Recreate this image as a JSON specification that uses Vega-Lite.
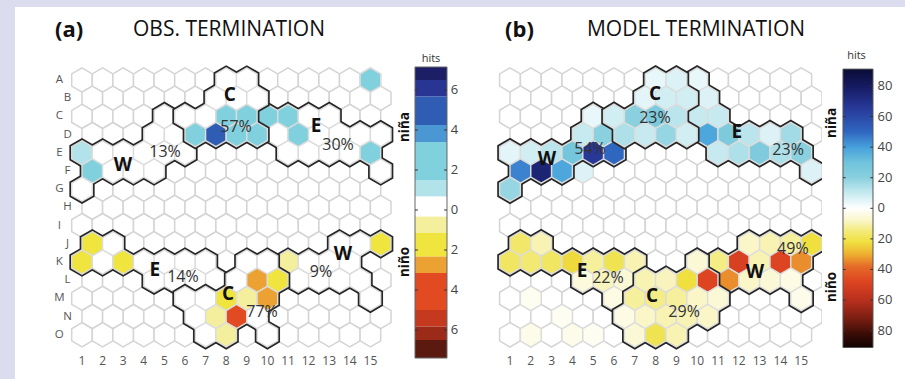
{
"$schema":"https://vega.github.io/schema/vega-lite/v6.json",
"background":"#dcdcef",
"padding":{"left":15,"top":7,"right":0,"bottom":0},
"bounds":"flush",
"spacing":0,
"config":{"view":{"fill":"white","stroke":null},"concat":{"spacing":0},"text":{"font":"Open Sans"}},
"datasets":{
"grid":[
{"x":1,"r":1},{"x":2,"r":1},{"x":3,"r":1},{"x":4,"r":1},{"x":5,"r":1},{"x":6,"r":1},{"x":7,"r":1},{"x":8,"r":1},{"x":9,"r":1},{"x":10,"r":1},{"x":11,"r":1},{"x":12,"r":1},{"x":13,"r":1},{"x":14,"r":1},{"x":15,"r":1},
{"x":1.5,"r":2},{"x":2.5,"r":2},{"x":3.5,"r":2},{"x":4.5,"r":2},{"x":5.5,"r":2},{"x":6.5,"r":2},{"x":7.5,"r":2},{"x":8.5,"r":2},{"x":9.5,"r":2},{"x":10.5,"r":2},{"x":11.5,"r":2},{"x":12.5,"r":2},{"x":13.5,"r":2},{"x":14.5,"r":2},{"x":15.5,"r":2},
{"x":1,"r":3},{"x":2,"r":3},{"x":3,"r":3},{"x":4,"r":3},{"x":5,"r":3},{"x":6,"r":3},{"x":7,"r":3},{"x":8,"r":3},{"x":9,"r":3},{"x":10,"r":3},{"x":11,"r":3},{"x":12,"r":3},{"x":13,"r":3},{"x":14,"r":3},{"x":15,"r":3},
{"x":1.5,"r":4},{"x":2.5,"r":4},{"x":3.5,"r":4},{"x":4.5,"r":4},{"x":5.5,"r":4},{"x":6.5,"r":4},{"x":7.5,"r":4},{"x":8.5,"r":4},{"x":9.5,"r":4},{"x":10.5,"r":4},{"x":11.5,"r":4},{"x":12.5,"r":4},{"x":13.5,"r":4},{"x":14.5,"r":4},{"x":15.5,"r":4},
{"x":1,"r":5},{"x":2,"r":5},{"x":3,"r":5},{"x":4,"r":5},{"x":5,"r":5},{"x":6,"r":5},{"x":7,"r":5},{"x":8,"r":5},{"x":9,"r":5},{"x":10,"r":5},{"x":11,"r":5},{"x":12,"r":5},{"x":13,"r":5},{"x":14,"r":5},{"x":15,"r":5},
{"x":1.5,"r":6},{"x":2.5,"r":6},{"x":3.5,"r":6},{"x":4.5,"r":6},{"x":5.5,"r":6},{"x":6.5,"r":6},{"x":7.5,"r":6},{"x":8.5,"r":6},{"x":9.5,"r":6},{"x":10.5,"r":6},{"x":11.5,"r":6},{"x":12.5,"r":6},{"x":13.5,"r":6},{"x":14.5,"r":6},{"x":15.5,"r":6},
{"x":1,"r":7},{"x":2,"r":7},{"x":3,"r":7},{"x":4,"r":7},{"x":5,"r":7},{"x":6,"r":7},{"x":7,"r":7},{"x":8,"r":7},{"x":9,"r":7},{"x":10,"r":7},{"x":11,"r":7},{"x":12,"r":7},{"x":13,"r":7},{"x":14,"r":7},{"x":15,"r":7},
{"x":1.5,"r":8},{"x":2.5,"r":8},{"x":3.5,"r":8},{"x":4.5,"r":8},{"x":5.5,"r":8},{"x":6.5,"r":8},{"x":7.5,"r":8},{"x":8.5,"r":8},{"x":9.5,"r":8},{"x":10.5,"r":8},{"x":11.5,"r":8},{"x":12.5,"r":8},{"x":13.5,"r":8},{"x":14.5,"r":8},{"x":15.5,"r":8},
{"x":1,"r":9},{"x":2,"r":9},{"x":3,"r":9},{"x":4,"r":9},{"x":5,"r":9},{"x":6,"r":9},{"x":7,"r":9},{"x":8,"r":9},{"x":9,"r":9},{"x":10,"r":9},{"x":11,"r":9},{"x":12,"r":9},{"x":13,"r":9},{"x":14,"r":9},{"x":15,"r":9},
{"x":1.5,"r":10},{"x":2.5,"r":10},{"x":3.5,"r":10},{"x":4.5,"r":10},{"x":5.5,"r":10},{"x":6.5,"r":10},{"x":7.5,"r":10},{"x":8.5,"r":10},{"x":9.5,"r":10},{"x":10.5,"r":10},{"x":11.5,"r":10},{"x":12.5,"r":10},{"x":13.5,"r":10},{"x":14.5,"r":10},{"x":15.5,"r":10},
{"x":1,"r":11},{"x":2,"r":11},{"x":3,"r":11},{"x":4,"r":11},{"x":5,"r":11},{"x":6,"r":11},{"x":7,"r":11},{"x":8,"r":11},{"x":9,"r":11},{"x":10,"r":11},{"x":11,"r":11},{"x":12,"r":11},{"x":13,"r":11},{"x":14,"r":11},{"x":15,"r":11},
{"x":1.5,"r":12},{"x":2.5,"r":12},{"x":3.5,"r":12},{"x":4.5,"r":12},{"x":5.5,"r":12},{"x":6.5,"r":12},{"x":7.5,"r":12},{"x":8.5,"r":12},{"x":9.5,"r":12},{"x":10.5,"r":12},{"x":11.5,"r":12},{"x":12.5,"r":12},{"x":13.5,"r":12},{"x":14.5,"r":12},{"x":15.5,"r":12},
{"x":1,"r":13},{"x":2,"r":13},{"x":3,"r":13},{"x":4,"r":13},{"x":5,"r":13},{"x":6,"r":13},{"x":7,"r":13},{"x":8,"r":13},{"x":9,"r":13},{"x":10,"r":13},{"x":11,"r":13},{"x":12,"r":13},{"x":13,"r":13},{"x":14,"r":13},{"x":15,"r":13},
{"x":1.5,"r":14},{"x":2.5,"r":14},{"x":3.5,"r":14},{"x":4.5,"r":14},{"x":5.5,"r":14},{"x":6.5,"r":14},{"x":7.5,"r":14},{"x":8.5,"r":14},{"x":9.5,"r":14},{"x":10.5,"r":14},{"x":11.5,"r":14},{"x":12.5,"r":14},{"x":13.5,"r":14},{"x":14.5,"r":14},{"x":15.5,"r":14},
{"x":1,"r":15},{"x":2,"r":15},{"x":3,"r":15},{"x":4,"r":15},{"x":5,"r":15},{"x":6,"r":15},{"x":7,"r":15},{"x":8,"r":15},{"x":9,"r":15},{"x":10,"r":15},{"x":11,"r":15},{"x":12,"r":15},{"x":13,"r":15},{"x":14,"r":15},{"x":15,"r":15}
],
"acells":[
{"x":15,"r":1,"v":1.8,"g":""},
{"x":1,"r":5,"v":1.2,"g":"W"},{"x":2,"r":5,"v":0,"g":"W"},{"x":3,"r":5,"v":0,"g":"W"},{"x":4,"r":5,"v":0,"g":"W"},{"x":5,"r":5,"v":0,"g":"W"},{"x":6,"r":5,"v":0,"g":"W"},{"x":1.5,"r":6,"v":2.5,"g":"W"},{"x":2.5,"r":6,"v":0,"g":"W"},{"x":3.5,"r":6,"v":0,"g":"W"},{"x":4.5,"r":6,"v":0,"g":"W"},{"x":1,"r":7,"v":0,"g":"W"},{"x":4.5,"r":4,"v":0,"g":"W"},{"x":5.5,"r":4,"v":0,"g":"W"},{"x":5,"r":3,"v":0,"g":"W"},
{"x":8,"r":1,"v":0,"g":"C"},{"x":9,"r":1,"v":0,"g":"C"},{"x":7.5,"r":2,"v":0,"g":"C"},{"x":8.5,"r":2,"v":0,"g":"C"},{"x":9.5,"r":2,"v":0,"g":"C"},{"x":6,"r":3,"v":0,"g":"C"},{"x":7,"r":3,"v":0,"g":"C"},{"x":8,"r":3,"v":2.5,"g":"C"},{"x":9,"r":3,"v":2.5,"g":"C"},{"x":6.5,"r":4,"v":1.8,"g":"C"},{"x":7.5,"r":4,"v":4.6,"g":"C"},{"x":8.5,"r":4,"v":2.5,"g":"C"},{"x":9.5,"r":4,"v":2.2,"g":"C"},
{"x":10,"r":3,"v":1.8,"g":"E"},{"x":11,"r":3,"v":1.8,"g":"E"},{"x":12,"r":3,"v":0,"g":"E"},{"x":13,"r":3,"v":0,"g":"E"},{"x":10.5,"r":4,"v":0,"g":"E"},{"x":11.5,"r":4,"v":1.8,"g":"E"},{"x":12.5,"r":4,"v":0,"g":"E"},{"x":13.5,"r":4,"v":0,"g":"E"},{"x":14.5,"r":4,"v":0,"g":"E"},{"x":15.5,"r":4,"v":0,"g":"E"},{"x":11,"r":5,"v":0,"g":"E"},{"x":12,"r":5,"v":0,"g":"E"},{"x":13,"r":5,"v":0,"g":"E"},{"x":14,"r":5,"v":0,"g":"E"},{"x":15,"r":5,"v":2.5,"g":"E"},{"x":15.5,"r":6,"v":0,"g":"E"},
{"x":1.5,"r":10,"v":-1.8,"g":"E"},{"x":2.5,"r":10,"v":0,"g":"E"},{"x":1,"r":11,"v":-1.8,"g":"E"},{"x":2,"r":11,"v":0,"g":"E"},{"x":3,"r":11,"v":-1.8,"g":"E"},{"x":4,"r":11,"v":0,"g":"E"},{"x":5,"r":11,"v":0,"g":"E"},{"x":6,"r":11,"v":0,"g":"E"},{"x":7,"r":11,"v":0,"g":"E"},{"x":4.5,"r":12,"v":0,"g":"E"},{"x":5.5,"r":12,"v":0,"g":"E"},{"x":6.5,"r":12,"v":0,"g":"E"},{"x":7.5,"r":12,"v":0,"g":"E"},
{"x":9,"r":11,"v":0,"g":"C"},{"x":10,"r":11,"v":0,"g":"C"},{"x":8.5,"r":12,"v":0,"g":"C"},{"x":9.5,"r":12,"v":-2.8,"g":"C"},{"x":10.5,"r":12,"v":-1.8,"g":"C"},{"x":6,"r":13,"v":0,"g":"C"},{"x":7,"r":13,"v":0,"g":"C"},{"x":8,"r":13,"v":-1.8,"g":"C"},{"x":9,"r":13,"v":-0.9,"g":"C"},{"x":10,"r":13,"v":-2.8,"g":"C"},{"x":6.5,"r":14,"v":0,"g":"C"},{"x":7.5,"r":14,"v":-0.9,"g":"C"},{"x":8.5,"r":14,"v":-4.2,"g":"C"},{"x":9.5,"r":14,"v":0,"g":"C"},{"x":7,"r":15,"v":0,"g":"C"},{"x":8,"r":15,"v":-0.9,"g":"C"},{"x":10,"r":15,"v":0,"g":"C"},
{"x":11,"r":11,"v":-0.9,"g":"W"},{"x":13.5,"r":10,"v":0,"g":"W"},{"x":14.5,"r":10,"v":0,"g":"W"},{"x":15.5,"r":10,"v":-1.3,"g":"W"},{"x":12,"r":11,"v":0,"g":"W"},{"x":13,"r":11,"v":0,"g":"W"},{"x":14,"r":11,"v":0,"g":"W"},{"x":11.5,"r":12,"v":0,"g":"W"},{"x":12.5,"r":12,"v":0,"g":"W"},{"x":13.5,"r":12,"v":0,"g":"W"},{"x":14.5,"r":12,"v":0,"g":"W"},{"x":15,"r":13,"v":0,"g":"W"}
],
"bcells":[
{"x":5,"r":3,"v":4,"g":"W"},{"x":4.5,"r":4,"v":10,"g":"W"},{"x":5.5,"r":4,"v":20,"g":"W"},{"x":1,"r":5,"v":5,"g":"W"},{"x":2,"r":5,"v":8,"g":"W"},{"x":3,"r":5,"v":12,"g":"W"},{"x":4,"r":5,"v":28,"g":"W"},{"x":5,"r":5,"v":66,"g":"W"},{"x":6,"r":5,"v":50,"g":"W"},{"x":1.5,"r":6,"v":45,"g":"W"},{"x":2.5,"r":6,"v":75,"g":"W"},{"x":3.5,"r":6,"v":38,"g":"W"},{"x":1,"r":7,"v":18,"g":"W"},
{"x":4.5,"r":6,"v":6,"g":""},
{"x":8,"r":1,"v":4,"g":"C"},{"x":9,"r":1,"v":6,"g":"C"},{"x":7.5,"r":2,"v":5,"g":"C"},{"x":8.5,"r":2,"v":8,"g":"C"},{"x":9.5,"r":2,"v":8,"g":"C"},{"x":6,"r":3,"v":8,"g":"C"},{"x":7,"r":3,"v":20,"g":"C"},{"x":8,"r":3,"v":25,"g":"C"},{"x":9,"r":3,"v":12,"g":"C"},{"x":6.5,"r":4,"v":14,"g":"C"},{"x":7.5,"r":4,"v":10,"g":"C"},{"x":8.5,"r":4,"v":18,"g":"C"},{"x":9.5,"r":4,"v":8,"g":"C"},
{"x":10,"r":1,"v":4,"g":"E"},{"x":10.5,"r":2,"v":6,"g":"E"},{"x":10,"r":3,"v":10,"g":"E"},{"x":11,"r":3,"v":10,"g":"E"},{"x":10.5,"r":4,"v":38,"g":"E"},{"x":11.5,"r":4,"v":25,"g":"E"},{"x":12.5,"r":4,"v":12,"g":"E"},{"x":13.5,"r":4,"v":6,"g":"E"},{"x":14.5,"r":4,"v":16,"g":"E"},{"x":11,"r":5,"v":10,"g":"E"},{"x":12,"r":5,"v":14,"g":"E"},{"x":13,"r":5,"v":24,"g":"E"},{"x":14,"r":5,"v":14,"g":"E"},{"x":15,"r":5,"v":20,"g":"E"},{"x":15.5,"r":6,"v":6,"g":"E"},
{"x":1.5,"r":10,"v":-17,"g":"E"},{"x":2.5,"r":10,"v":-10,"g":"E"},{"x":1,"r":11,"v":-18,"g":"E"},{"x":2,"r":11,"v":-16,"g":"E"},{"x":3,"r":11,"v":-18,"g":"E"},{"x":4,"r":11,"v":-23,"g":"E"},{"x":5,"r":11,"v":-12,"g":"E"},{"x":6,"r":11,"v":-20,"g":"E"},{"x":7,"r":11,"v":-10,"g":"E"},{"x":4.5,"r":12,"v":-5,"g":"E"},{"x":5.5,"r":12,"v":-9,"g":"E"},{"x":6.5,"r":12,"v":-6,"g":"E"},{"x":6,"r":13,"v":-4,"g":"E"},
{"x":10,"r":11,"v":-6,"g":"C"},{"x":7.5,"r":12,"v":-10,"g":"C"},{"x":8.5,"r":12,"v":-9,"g":"C"},{"x":9.5,"r":12,"v":-22,"g":"C"},{"x":10.5,"r":12,"v":-48,"g":"C"},{"x":7,"r":13,"v":-12,"g":"C"},{"x":8,"r":13,"v":-14,"g":"C"},{"x":9,"r":13,"v":-12,"g":"C"},{"x":10,"r":13,"v":-8,"g":"C"},{"x":11,"r":13,"v":-6,"g":"C"},{"x":6.5,"r":14,"v":-4,"g":"C"},{"x":7.5,"r":14,"v":-8,"g":"C"},{"x":8.5,"r":14,"v":-10,"g":"C"},{"x":9.5,"r":14,"v":-10,"g":"C"},{"x":10.5,"r":14,"v":-8,"g":"C"},{"x":7,"r":15,"v":-6,"g":"C"},{"x":8,"r":15,"v":-20,"g":"C"},{"x":9,"r":15,"v":-10,"g":"C"},
{"x":12.5,"r":10,"v":-8,"g":"W"},{"x":13.5,"r":10,"v":-10,"g":"W"},{"x":14.5,"r":10,"v":-12,"g":"W"},{"x":15.5,"r":10,"v":-22,"g":"W"},{"x":11,"r":11,"v":-14,"g":"W"},{"x":12,"r":11,"v":-50,"g":"W"},{"x":13,"r":11,"v":-10,"g":"W"},{"x":14,"r":11,"v":-48,"g":"W"},{"x":15,"r":11,"v":-34,"g":"W"},{"x":11.5,"r":12,"v":-34,"g":"W"},{"x":12.5,"r":12,"v":-8,"g":"W"},{"x":13.5,"r":12,"v":-6,"g":"W"},{"x":14.5,"r":12,"v":-4,"g":"W"},{"x":15,"r":13,"v":-3,"g":"W"},
{"x":2,"r":15,"v":-3,"g":""},{"x":4,"r":15,"v":-3,"g":""},{"x":5,"r":15,"v":-2,"g":""},{"x":3.5,"r":14,"v":-2,"g":""},{"x":2,"r":13,"v":-2,"g":""}
],
"atext":[
{"t":"W","x":2.99,"r":5.67,"b":"bold"},{"t":"13%","x":5.03,"r":4.96,"b":"normal"},{"t":"C","x":8.18,"r":1.82,"b":"bold"},{"t":"57%","x":8.48,"r":3.58,"b":"normal"},{"t":"E","x":12.36,"r":3.53,"b":"bold"},{"t":"30%","x":13.43,"r":4.57,"b":"normal"},
{"t":"E","x":4.54,"r":11.44,"b":"bold"},{"t":"14%","x":5.9,"r":11.82,"b":"normal"},{"t":"C","x":8.09,"r":12.76,"b":"bold"},{"t":"77%","x":9.74,"r":13.75,"b":"normal"},{"t":"W","x":13.67,"r":10.56,"b":"bold"},{"t":"9%","x":12.6,"r":11.55,"b":"normal"}
],
"btext":[
{"t":"C","x":7.97,"r":1.77,"b":"bold"},{"t":"23%","x":7.97,"r":3.1,"b":"normal"},{"t":"W","x":2.78,"r":5.35,"b":"bold"},{"t":"54%","x":4.85,"r":4.79,"b":"normal"},{"t":"E","x":11.9,"r":3.86,"b":"bold"},{"t":"23%","x":14.37,"r":4.85,"b":"normal"},
{"t":"E","x":4.46,"r":11.49,"b":"bold"},{"t":"22%","x":5.71,"r":11.88,"b":"normal"},{"t":"C","x":7.83,"r":12.87,"b":"bold"},{"t":"29%","x":9.37,"r":13.75,"b":"normal"},{"t":"W","x":12.78,"r":11.55,"b":"bold"},{"t":"49%","x":14.6,"r":10.29,"b":"normal"}
],
"rowlabs":[
{"t":"A","x":-0.1,"r":1},{"t":"B","x":0.3,"r":2},{"t":"C","x":-0.1,"r":3},{"t":"D","x":0.3,"r":4},{"t":"E","x":-0.1,"r":5},{"t":"F","x":0.3,"r":6},{"t":"G","x":-0.1,"r":7},{"t":"H","x":0.3,"r":8},{"t":"I","x":-0.1,"r":9},{"t":"J","x":0.3,"r":10},{"t":"K","x":-0.1,"r":11},{"t":"L","x":0.3,"r":12},{"t":"M","x":-0.1,"r":13},{"t":"N","x":0.3,"r":14},{"t":"O","x":-0.1,"r":15}
],
"collabs":[
{"t":"1","x":1},{"t":"2","x":2},{"t":"3","x":3},{"t":"4","x":4},{"t":"5","x":5},{"t":"6","x":6},{"t":"7","x":7},{"t":"8","x":8},{"t":"9","x":9},{"t":"10","x":10},{"t":"11","x":11},{"t":"12","x":12},{"t":"13","x":13},{"t":"14","x":14},{"t":"15","x":15}
],
"cba":[
{"lo":6.5,"hi":7.15,"m":6.8},{"lo":5.67,"hi":6.5,"m":6},{"lo":4.25,"hi":5.67,"m":5},{"lo":3.4,"hi":4.25,"m":3.8},{"lo":1.5,"hi":3.4,"m":2.5},{"lo":0.67,"hi":1.5,"m":1.1},{"lo":-0.33,"hi":0.67,"m":0},{"lo":-1.15,"hi":-0.33,"m":-0.7},{"lo":-2.33,"hi":-1.15,"m":-1.8},{"lo":-3.15,"hi":-2.33,"m":-2.8},{"lo":-5,"hi":-3.15,"m":-4},{"lo":-5.83,"hi":-5,"m":-5.4},{"lo":-6.5,"hi":-5.83,"m":-6.2},{"lo":-7.4,"hi":-6.5,"m":-7}
],
"cbaticks":[{"v":6,"t":"6"},{"v":4,"t":"4"},{"v":2,"t":"2"},{"v":0,"t":"0"},{"v":-2,"t":"2"},{"v":-4,"t":"4"},{"v":-6,"t":"6"}],
"cbbticks":[{"v":80,"t":"80"},{"v":60,"t":"60"},{"v":40,"t":"40"},{"v":20,"t":"20"},{"v":0,"t":"0"},{"v":-20,"t":"20"},{"v":-40,"t":"40"},{"v":-60,"t":"60"},{"v":-80,"t":"80"}]
},
"hconcat":[
{
"width":385,"height":372,
"layer":[
{"data":{"name":"grid"},"mark":{"type":"point","shape":"M0,-1.175L1,-0.5875L1,0.5875L0,1.175L-1,0.5875L-1,-0.5875Z","filled":true,"fill":"white","stroke":"#d4d4d4","strokeWidth":1.5,"size":424,"opacity":1},
 "encoding":{"x":{"field":"x","type":"quantitative","scale":{"domain":[-2.252,16.437],"nice":false,"zero":false},"axis":null},"y":{"field":"r","type":"quantitative","scale":{"domain":[-3.011,17.429],"nice":false,"zero":false,"reverse":true},"axis":null}}},
{"data":{"name":"acells"},"transform":[{"filter":"datum.g==''"}],"mark":{"type":"point","shape":"M0,-1.175L1,-0.5875L1,0.5875L0,1.175L-1,0.5875L-1,-0.5875Z","filled":true,"stroke":"#dcdcdc","strokeWidth":1.4,"size":424,"opacity":1},
 "encoding":{"x":{"field":"x","type":"quantitative"},"y":{"field":"r","type":"quantitative"},"color":{"field":"v","type":"quantitative","scale":{"type":"threshold","domain":[-6.5,-5.83,-5,-3.15,-2.33,-1.15,-0.33,0.67,1.5,3.4,4.25,5.67,6.5],"range":["#5a1a10","#9b2a18","#c53a1e","#e24a22","#eca232","#f0e43e","#f4ef9c","#ffffff","#b3e3ea","#80d0dd","#4a97d4","#2f5db3","#283593","#1c1f66"]},"legend":null}}},
{"data":{"name":"acells"},"transform":[{"filter":"datum.g=='W'||datum.g=='E'"}],"mark":{"type":"point","shape":"M0,-1.175L1,-0.5875L1,0.5875L0,1.175L-1,0.5875L-1,-0.5875Z","filled":true,"fill":"#262626","strokeWidth":0,"size":640,"opacity":1},
 "encoding":{"x":{"field":"x","type":"quantitative"},"y":{"field":"r","type":"quantitative"}}},
{"data":{"name":"acells"},"transform":[{"filter":"datum.g=='W'||datum.g=='E'"}],"mark":{"type":"point","shape":"M0,-1.175L1,-0.5875L1,0.5875L0,1.175L-1,0.5875L-1,-0.5875Z","filled":true,"stroke":"#dcdcdc","strokeWidth":1.4,"size":424,"opacity":1},
 "encoding":{"x":{"field":"x","type":"quantitative"},"y":{"field":"r","type":"quantitative"},"color":{"field":"v","type":"quantitative","scale":{"type":"threshold","domain":[-6.5,-5.83,-5,-3.15,-2.33,-1.15,-0.33,0.67,1.5,3.4,4.25,5.67,6.5],"range":["#5a1a10","#9b2a18","#c53a1e","#e24a22","#eca232","#f0e43e","#f4ef9c","#ffffff","#b3e3ea","#80d0dd","#4a97d4","#2f5db3","#283593","#1c1f66"]},"legend":null}}},
{"data":{"name":"acells"},"transform":[{"filter":"datum.g=='C'"}],"mark":{"type":"point","shape":"M0,-1.175L1,-0.5875L1,0.5875L0,1.175L-1,0.5875L-1,-0.5875Z","filled":true,"fill":"#262626","strokeWidth":0,"size":640,"opacity":1},
 "encoding":{"x":{"field":"x","type":"quantitative"},"y":{"field":"r","type":"quantitative"}}},
{"data":{"name":"acells"},"transform":[{"filter":"datum.g=='C'"}],"mark":{"type":"point","shape":"M0,-1.175L1,-0.5875L1,0.5875L0,1.175L-1,0.5875L-1,-0.5875Z","filled":true,"stroke":"#dcdcdc","strokeWidth":1.4,"size":424,"opacity":1},
 "encoding":{"x":{"field":"x","type":"quantitative"},"y":{"field":"r","type":"quantitative"},"color":{"field":"v","type":"quantitative","scale":{"type":"threshold","domain":[-6.5,-5.83,-5,-3.15,-2.33,-1.15,-0.33,0.67,1.5,3.4,4.25,5.67,6.5],"range":["#5a1a10","#9b2a18","#c53a1e","#e24a22","#eca232","#f0e43e","#f4ef9c","#ffffff","#b3e3ea","#80d0dd","#4a97d4","#2f5db3","#283593","#1c1f66"]},"legend":null}}},
{"data":{"name":"atext"},"transform":[{"filter":"datum.b=='bold'"}],"mark":{"type":"text","fontSize":19,"fontWeight":"bold","font":"Open Sans","color":"#111"},"encoding":{"x":{"field":"x","type":"quantitative"},"y":{"field":"r","type":"quantitative"},"text":{"field":"t"}}},
{"data":{"name":"atext"},"transform":[{"filter":"datum.b=='normal'"}],"mark":{"type":"text","fontSize":16,"font":"Open Sans","color":"#333"},"encoding":{"x":{"field":"x","type":"quantitative"},"y":{"field":"r","type":"quantitative"},"text":{"field":"t"}}},
{"data":{"name":"rowlabs"},"mark":{"type":"text","fontSize":11.5,"color":"#555","font":"Open Sans"},"encoding":{"x":{"field":"x","type":"quantitative"},"y":{"field":"r","type":"quantitative"},"text":{"field":"t"}}},
{"data":{"name":"collabs"},"mark":{"type":"text","fontSize":12,"color":"#555","font":"Open Sans"},"encoding":{"x":{"field":"x","type":"quantitative"},"y":{"datum":16.44,"type":"quantitative"},"text":{"field":"t"}}},
{"data":{"values":[{"t":"(a)"}]},"mark":{"type":"text","fontSize":22,"fontWeight":"bold","align":"left","color":"#111","font":"Open Sans"},"encoding":{"x":{"datum":-0.31,"type":"quantitative"},"y":{"datum":-1.72,"type":"quantitative"},"text":{"field":"t"}}},
{"data":{"values":[{"t":"OBS. TERMINATION"}]},"mark":{"type":"text","fontSize":21,"align":"left","color":"#111","font":"Open Sans"},"encoding":{"x":{"datum":3.476,"type":"quantitative"},"y":{"datum":-1.72,"type":"quantitative"},"text":{"field":"t"}}}
]
},
{
"width":70,"height":372,
"layer":[
{"data":{"name":"cba"},"mark":{"type":"rect"},"encoding":{
"x":{"datum":0,"type":"quantitative","scale":{"domain":[-0.469,1.719],"nice":false,"zero":false},"axis":null},
"x2":{"datum":1},
"y":{"field":"lo","type":"quantitative","scale":{"domain":[-8.45,10.15],"nice":false,"zero":false},"axis":null},
"y2":{"field":"hi"},
"color":{"field":"m","type":"quantitative","scale":{"type":"threshold","domain":[-6.5,-5.83,-5,-3.15,-2.33,-1.15,-0.33,0.67,1.5,3.4,4.25,5.67,6.5],"range":["#5a1a10","#9b2a18","#c53a1e","#e24a22","#eca232","#f0e43e","#f4ef9c","#ffffff","#b3e3ea","#80d0dd","#4a97d4","#2f5db3","#283593","#1c1f66"]},"legend":null}}},
{"data":{"values":[{"lo":-7.4,"hi":7.15}]},"mark":{"type":"rect","fill":null,"stroke":"#666","strokeWidth":1},"encoding":{"x":{"datum":0,"type":"quantitative"},"x2":{"datum":1},"y":{"field":"lo","type":"quantitative"},"y2":{"field":"hi"}}},
{"data":{"name":"cbaticks"},"mark":{"type":"rule","color":"#333","strokeWidth":1},"encoding":{"x":{"datum":0,"type":"quantitative"},"x2":{"datum":0.09},"y":{"field":"v","type":"quantitative"}}},
{"data":{"name":"cbaticks"},"mark":{"type":"rule","color":"#333","strokeWidth":1},"encoding":{"x":{"datum":0.91,"type":"quantitative"},"x2":{"datum":1},"y":{"field":"v","type":"quantitative"}}},
{"data":{"name":"cbaticks"},"mark":{"type":"text","fontSize":13,"align":"left","color":"#444","font":"Open Sans"},"encoding":{"x":{"datum":1.12,"type":"quantitative"},"y":{"field":"v","type":"quantitative"},"text":{"field":"t"}}},
{"data":{"values":[{"t":"hits"}]},"mark":{"type":"text","fontSize":11,"color":"#333","font":"Open Sans"},"encoding":{"x":{"datum":0.5,"type":"quantitative"},"y":{"datum":7.55,"type":"quantitative"},"text":{"field":"t"}}},
{"data":{"values":[{"t":"niña","v":4.15},{"t":"niño","v":-2.6}]},"mark":{"type":"text","fontSize":13.5,"fontWeight":"bold","angle":270,"color":"#111","font":"Open Sans"},"encoding":{"x":{"datum":-0.31,"type":"quantitative"},"y":{"field":"v","type":"quantitative"},"text":{"field":"t"}}}
]
},
{
"width":352,"height":372,
"layer":[
{"data":{"name":"grid"},"mark":{"type":"point","shape":"M0,-1.175L1,-0.5875L1,0.5875L0,1.175L-1,0.5875L-1,-0.5875Z","filled":true,"fill":"white","stroke":"#d4d4d4","strokeWidth":1.5,"size":433,"opacity":1},
 "encoding":{"x":{"field":"x","type":"quantitative","scale":{"domain":[-0.923,16.0],"nice":false,"zero":false},"axis":null},"y":{"field":"r","type":"quantitative","scale":{"domain":[-3.011,17.429],"nice":false,"zero":false,"reverse":true},"axis":null}}},
{"data":{"name":"bcells"},"transform":[{"filter":"datum.g==''"}],"mark":{"type":"point","shape":"M0,-1.175L1,-0.5875L1,0.5875L0,1.175L-1,0.5875L-1,-0.5875Z","filled":true,"stroke":"#dcdcdc","strokeWidth":1.4,"size":433,"opacity":1},
 "encoding":{"x":{"field":"x","type":"quantitative"},"y":{"field":"r","type":"quantitative"},"color":{"field":"v","type":"quantitative","scale":{"domain":[-91,-82,-72,-60,-48,-38,-30,-22,-15,-8,0,10,20,30,40,50,65,80,91],"range":["#120302","#3a0c06","#7a1e12","#b8301e","#dd4422","#e66a28","#eeb030","#efe040","#f3ea7a","#faf6c8","#ffffff","#c6eaf0","#8ad0de","#6fc3dc","#46a0dc","#2f66c0","#283a9a","#151a60","#0a0c35"],"interpolate":"rgb"},"legend":null}}},
{"data":{"name":"bcells"},"transform":[{"filter":"datum.g=='W'||datum.g=='E'"}],"mark":{"type":"point","shape":"M0,-1.175L1,-0.5875L1,0.5875L0,1.175L-1,0.5875L-1,-0.5875Z","filled":true,"fill":"#262626","strokeWidth":0,"size":655,"opacity":1},
 "encoding":{"x":{"field":"x","type":"quantitative"},"y":{"field":"r","type":"quantitative"}}},
{"data":{"name":"bcells"},"transform":[{"filter":"datum.g=='W'||datum.g=='E'"}],"mark":{"type":"point","shape":"M0,-1.175L1,-0.5875L1,0.5875L0,1.175L-1,0.5875L-1,-0.5875Z","filled":true,"stroke":"#dcdcdc","strokeWidth":1.4,"size":433,"opacity":1},
 "encoding":{"x":{"field":"x","type":"quantitative"},"y":{"field":"r","type":"quantitative"},"color":{"field":"v","type":"quantitative","scale":{"domain":[-91,-82,-72,-60,-48,-38,-30,-22,-15,-8,0,10,20,30,40,50,65,80,91],"range":["#120302","#3a0c06","#7a1e12","#b8301e","#dd4422","#e66a28","#eeb030","#efe040","#f3ea7a","#faf6c8","#ffffff","#c6eaf0","#8ad0de","#6fc3dc","#46a0dc","#2f66c0","#283a9a","#151a60","#0a0c35"],"interpolate":"rgb"},"legend":null}}},
{"data":{"name":"bcells"},"transform":[{"filter":"datum.g=='C'"}],"mark":{"type":"point","shape":"M0,-1.175L1,-0.5875L1,0.5875L0,1.175L-1,0.5875L-1,-0.5875Z","filled":true,"fill":"#262626","strokeWidth":0,"size":655,"opacity":1},
 "encoding":{"x":{"field":"x","type":"quantitative"},"y":{"field":"r","type":"quantitative"}}},
{"data":{"name":"bcells"},"transform":[{"filter":"datum.g=='C'"}],"mark":{"type":"point","shape":"M0,-1.175L1,-0.5875L1,0.5875L0,1.175L-1,0.5875L-1,-0.5875Z","filled":true,"stroke":"#dcdcdc","strokeWidth":1.4,"size":433,"opacity":1},
 "encoding":{"x":{"field":"x","type":"quantitative"},"y":{"field":"r","type":"quantitative"},"color":{"field":"v","type":"quantitative","scale":{"domain":[-91,-82,-72,-60,-48,-38,-30,-22,-15,-8,0,10,20,30,40,50,65,80,91],"range":["#120302","#3a0c06","#7a1e12","#b8301e","#dd4422","#e66a28","#eeb030","#efe040","#f3ea7a","#faf6c8","#ffffff","#c6eaf0","#8ad0de","#6fc3dc","#46a0dc","#2f66c0","#283a9a","#151a60","#0a0c35"],"interpolate":"rgb"},"legend":null}}},
{"data":{"name":"btext"},"transform":[{"filter":"datum.b=='bold'"}],"mark":{"type":"text","fontSize":19,"fontWeight":"bold","font":"Open Sans","color":"#111"},"encoding":{"x":{"field":"x","type":"quantitative"},"y":{"field":"r","type":"quantitative"},"text":{"field":"t"}}},
{"data":{"name":"btext"},"transform":[{"filter":"datum.b=='normal'"}],"mark":{"type":"text","fontSize":16,"font":"Open Sans","color":"#333"},"encoding":{"x":{"field":"x","type":"quantitative"},"y":{"field":"r","type":"quantitative"},"text":{"field":"t"}}},
{"data":{"name":"collabs"},"mark":{"type":"text","fontSize":12,"color":"#555","font":"Open Sans"},"encoding":{"x":{"field":"x","type":"quantitative"},"y":{"datum":16.44,"type":"quantitative"},"text":{"field":"t"}}},
{"data":{"values":[{"t":"(b)"}]},"mark":{"type":"text","fontSize":22,"fontWeight":"bold","align":"left","color":"#111","font":"Open Sans"},"encoding":{"x":{"datum":0.76,"type":"quantitative"},"y":{"datum":-1.72,"type":"quantitative"},"text":{"field":"t"}}},
{"data":{"values":[{"t":"MODEL TERMINATION"}]},"mark":{"type":"text","fontSize":21,"align":"left","color":"#111","font":"Open Sans"},"encoding":{"x":{"datum":4.7,"type":"quantitative"},"y":{"datum":-1.72,"type":"quantitative"},"text":{"field":"t"}}}
]
},
{
"width":83,"height":372,
"layer":[
{"data":{"values":[{"lo":-91,"hi":91}]},"mark":{"type":"rect","stroke":"#555","strokeWidth":1,"fill":{"gradient":"linear","x1":0,"y1":0,"x2":0,"y2":1,"stops":[{"offset":0,"color":"#0a0c35"},{"offset":0.06,"color":"#151a60"},{"offset":0.143,"color":"#283a9a"},{"offset":0.225,"color":"#2f66c0"},{"offset":0.28,"color":"#46a0dc"},{"offset":0.335,"color":"#6fc3dc"},{"offset":0.39,"color":"#8ad0de"},{"offset":0.445,"color":"#c6eaf0"},{"offset":0.5,"color":"#ffffff"},{"offset":0.544,"color":"#faf6c8"},{"offset":0.582,"color":"#f3ea7a"},{"offset":0.621,"color":"#efe040"},{"offset":0.665,"color":"#eeb030"},{"offset":0.709,"color":"#e66a28"},{"offset":0.764,"color":"#dd4422"},{"offset":0.83,"color":"#b8301e"},{"offset":0.896,"color":"#7a1e12"},{"offset":0.951,"color":"#3a0c06"},{"offset":1,"color":"#120302"}]}},
 "encoding":{"x":{"datum":0,"type":"quantitative","scale":{"domain":[-0.7,2.067],"nice":false,"zero":false},"axis":null},"x2":{"datum":1},"y":{"field":"lo","type":"quantitative","scale":{"domain":[-111.6,131.6],"nice":false,"zero":false},"axis":null},"y2":{"field":"hi"}}},
{"data":{"name":"cbbticks"},"mark":{"type":"rule","color":"#333","strokeWidth":1},"encoding":{"x":{"datum":0,"type":"quantitative"},"x2":{"datum":0.09},"y":{"field":"v","type":"quantitative"}}},
{"data":{"name":"cbbticks"},"mark":{"type":"rule","color":"#333","strokeWidth":1},"encoding":{"x":{"datum":0.91,"type":"quantitative"},"x2":{"datum":1},"y":{"field":"v","type":"quantitative"}}},
{"data":{"name":"cbbticks"},"mark":{"type":"text","fontSize":13,"align":"left","color":"#444","font":"Open Sans"},"encoding":{"x":{"datum":1.15,"type":"quantitative"},"y":{"field":"v","type":"quantitative"},"text":{"field":"t"}}},
{"data":{"values":[{"t":"hits"}]},"mark":{"type":"text","fontSize":11,"color":"#333","font":"Open Sans"},"encoding":{"x":{"datum":0.45,"type":"quantitative"},"y":{"datum":99.5,"type":"quantitative"},"text":{"field":"t"}}},
{"data":{"values":[{"t":"niña","v":55.8},{"t":"niño","v":-51.4}]},"mark":{"type":"text","fontSize":13.5,"fontWeight":"bold","angle":270,"color":"#111","font":"Open Sans"},"encoding":{"x":{"datum":-0.37,"type":"quantitative"},"y":{"field":"v","type":"quantitative"},"text":{"field":"t"}}}
]
}
]
}
